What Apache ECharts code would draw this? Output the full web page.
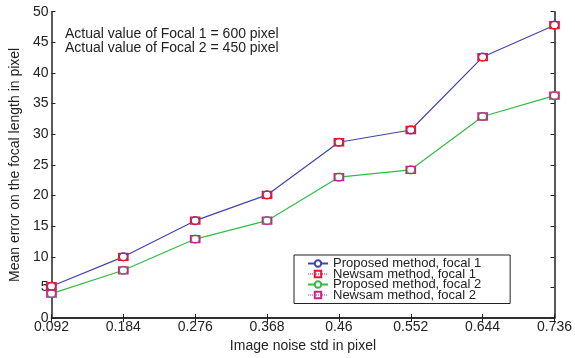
<!DOCTYPE html>
<html>
<head>
<meta charset="utf-8">
<script src="https://cdn.jsdelivr.net/npm/echarts@6/dist/echarts.min.js"></script>
<style>html,body{margin:0;padding:0;background:#fff}#c{width:575px;height:358px}</style>
</head>
<body>
<div id="c"></div>
<script>
const categories = ['0.092','0.184','0.276','0.368','0.46','0.552','0.644','0.736'];
const proposedFocal1 = [5.2, 10.0, 15.9, 20.1, 28.7, 30.7, 42.6, 47.8];
const newsamFocal1   = [5.2, 10.0, 15.9, 20.1, 28.7, 30.7, 42.6, 47.8];
const proposedFocal2 = [4.0, 7.8, 12.9, 15.9, 23.0, 24.2, 32.9, 36.3];
const newsamFocal2   = [4.0, 7.8, 12.9, 15.9, 23.0, 24.2, 32.9, 36.3];
const seriesNames = ['Proposed method, focal 1','Newsam method, focal 1','Proposed method, focal 2','Newsam method, focal 2'];
const annotations = ['Actual value of Focal 1 = 600 pixel','Actual value of Focal 2 = 450 pixel'];

const FONT = 'Liberation Sans, Arial, Helvetica, sans-serif';
const BLUE = '#4444aa', RED = '#ee1133', GREEN = '#33bb44', MAG = '#cc2288';

const chart = echarts.init(document.getElementById('c'));
const axisLine = {show:true, lineStyle:{color:'#222', width:1.5}};
chart.setOption({
  animation:false,
  backgroundColor:'#fff',
  grid:{left:43, right:14, top:11.7, bottom:30, containLabel:false},
  xAxis:[{
    type:'category', data:categories, boundaryGap:false,
    axisLine:axisLine,
    axisTick:{show:true, inside:true, length:4, lineStyle:{color:'#222'}},
    axisLabel:{color:'#222', fontFamily:FONT, fontSize:14, margin:2},
    splitLine:{show:false},
    name:'Image noise std in pixel', nameLocation:'middle', nameGap:15,
    nameTextStyle:{color:'#222', fontFamily:FONT, fontSize:14}
  },{
    type:'category', data:categories, boundaryGap:false, position:'top',
    axisLine:axisLine,
    axisTick:{show:true, inside:true, length:4, lineStyle:{color:'#222'}},
    axisLabel:{show:false}, splitLine:{show:false}
  }],
  yAxis:[{
    type:'value', min:0, max:50, interval:5,
    axisLine:axisLine,
    axisTick:{show:true, inside:true, length:4, lineStyle:{color:'#222'}},
    axisLabel:{color:'#222', fontFamily:FONT, fontSize:14, margin:3},
    splitLine:{show:false},
    name:'Mean error on the focal length in pixel', nameLocation:'middle', nameGap:28,
    nameTextStyle:{color:'#222', fontFamily:FONT, fontSize:14}
  },{
    type:'value', min:0, max:50, interval:5, position:'right',
    axisLine:axisLine,
    axisTick:{show:true, inside:true, length:4, lineStyle:{color:'#222'}},
    axisLabel:{show:false}, splitLine:{show:false}
  }],
  legend:{
    orient:'vertical', left:294, top:255,
    backgroundColor:'#fff', borderColor:'#222', borderWidth:1,
    padding:[2, 29, 2, 13],
    itemGap:-2.5, itemWidth:20, itemHeight:8,
    textStyle:{fontFamily:FONT, fontSize:13, color:'#222', padding:[0,0,0,0]},
    data:[
      {name:seriesNames[0]},
      {name:seriesNames[1], lineStyle:{opacity:1, type:'dotted', color:RED, width:1}},
      {name:seriesNames[2]},
      {name:seriesNames[3], lineStyle:{opacity:1, type:'dotted', color:MAG, width:1}}
    ]
  },
  graphic:[
    {type:'text', left:65, top:27, style:{text:annotations[0], fill:'#222', font:'14px ' + FONT}},
    {type:'text', left:65, top:41, style:{text:annotations[1], fill:'#222', font:'14px ' + FONT}}
  ],
  series:[
    {name:seriesNames[0], type:'line', data:proposedFocal1, symbol:'circle', symbolSize:8, showSymbol:true,
     lineStyle:{color:BLUE, width:1.2}, itemStyle:{color:'#fff', borderColor:BLUE, borderWidth:1.2}, z:2},
    {name:seriesNames[1], type:'line', data:newsamFocal1, symbol:'rect', symbolSize:[9,7],
     lineStyle:{color:RED, width:1, opacity:0}, itemStyle:{color:'rgba(0,0,0,0)', borderColor:RED, borderWidth:1.5}, z:3},
    {name:seriesNames[2], type:'line', data:proposedFocal2, symbol:'circle', symbolSize:8,
     lineStyle:{color:GREEN, width:1.2}, itemStyle:{color:'#fff', borderColor:GREEN, borderWidth:1.2}, z:2},
    {name:seriesNames[3], type:'line', data:newsamFocal2, symbol:'rect', symbolSize:[9,7],
     lineStyle:{color:MAG, width:1, opacity:0}, itemStyle:{color:'rgba(0,0,0,0)', borderColor:MAG, borderWidth:1.5}, z:3}
  ]
});
</script>
</body>
</html>
